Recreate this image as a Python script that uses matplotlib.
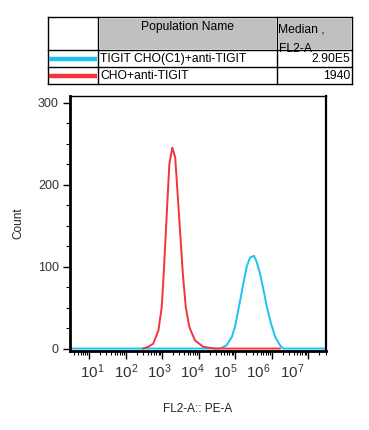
import numpy as np
import matplotlib
matplotlib.use("Agg")
import matplotlib.pyplot as plt
from matplotlib.patches import Rectangle
from matplotlib.ticker import FixedLocator, NullFormatter

plt.rcParams['font.family'] = ['Liberation Sans', 'DejaVu Sans']
plt.rcParams['mathtext.fontset'] = 'custom'
plt.rcParams['mathtext.rm'] = 'Liberation Sans'
plt.rcParams['mathtext.it'] = 'Liberation Sans'

# histogram outlines (log10 of FL2-A, count)
red_log = [2.48, 2.62, 2.76, 2.90, 2.99, 3.05, 3.13, 3.20, 3.28, 3.36, 3.42,
           3.49, 3.57, 3.65, 3.75, 3.90, 4.13, 4.45, 5.00, 6.23]
red_cnt = [0, 2, 6, 22, 50, 95, 165, 225, 245, 233, 193,
           145, 91, 50, 26, 10, 2, 0, 0, 0]

blue_log = [0.4, 4.59, 4.77, 4.91, 5.00, 5.07, 5.14, 5.23, 5.32, 5.41, 5.52,
            5.59, 5.68, 5.78, 5.87, 5.98, 6.10, 6.23, 6.32, 7.6]
blue_cnt = [0, 0, 4, 14, 27, 43, 59, 80, 100, 111, 113,
            106, 92, 71, 51, 31, 14, 4, 0, 0]

pop_names = ['TIGIT CHO(C1)+anti-TIGIT', 'CHO+anti-TIGIT']
medians = ['2.90E5', '1940']
colors = ['#1ec0f5', '#f5333a']

decades = [1, 2, 3, 4, 5, 6, 7]
y_major = [0, 100, 200, 300]

W, H = 369, 430
fig = plt.figure(figsize=(W / 100, H / 100), dpi=100)

# ---- histogram axes
ax = fig.add_axes([70 / W, 1 - 351 / H, 256 / W, 255 / H])
ax.set_xscale('log')
ax.plot(10 ** np.array(blue_log), blue_cnt, color=colors[0], lw=1.4)
ax.plot(10 ** np.array(red_log), red_cnt, color=colors[1], lw=1.4)
ax.set_xlim(10 ** 0.479, 10 ** 7.49)
ax.set_ylim(-3, 308)

ax.xaxis.set_major_locator(FixedLocator([10.0 ** d for d in decades]))
minors = [m * 10.0 ** d for d in range(0, 8) for m in range(2, 10)]
ax.xaxis.set_minor_locator(FixedLocator(minors))
ax.xaxis.set_major_formatter(NullFormatter())
ax.xaxis.set_minor_formatter(NullFormatter())
ax.tick_params(axis='x', which='major', direction='out', length=6, width=1)
ax.tick_params(axis='x', which='minor', direction='out', length=3, width=0.8)

ax.set_yticks(y_major)
ax.set_yticks(np.arange(25, 300, 25), minor=True)
ax.tick_params(axis='y', which='major', direction='out', length=5, width=1,
               labelsize=9, pad=3, labelcolor='#333333')
ax.tick_params(axis='y', which='minor', direction='out', length=3, width=0.8)

for side, lw in [('left', 2), ('bottom', 2), ('right', 1.6), ('top', 1)]:
    ax.spines[side].set_linewidth(lw)
    ax.spines[side].set_color('black')

# FlowJo prints the decade labels on a slightly tighter spacing than the ticks
def to_lab(x):
    d = np.log10(np.clip(x, 1e-300, None))
    return 10 ** (1 + (36.5 * (d - 1) - 3.5) / 33.2)

def from_lab(s):
    n = np.log10(np.clip(s, 1e-300, None))
    return 10 ** (1 + (3.5 + 33.2 * (n - 1)) / 36.5)

sec = ax.secondary_xaxis('bottom', functions=(to_lab, from_lab))
sec.set_xticks([10.0 ** d for d in decades],
               labels=['$10^{%d}$' % d for d in decades])
sec.xaxis.set_minor_locator(FixedLocator([]))
sec.tick_params(axis='x', which='both', length=0, pad=8, labelsize=11,
                labelcolor='#333333')
sec.spines['bottom'].set_visible(False)

ax.set_xlabel('FL2-A:: PE-A', fontsize=8.5, color='#222222')
ax.xaxis.set_label_coords(0.5, -0.205)
ax.set_ylabel('Count', fontsize=8.5, color='#222222')
ax.yaxis.set_label_coords(-0.18, 0.5)

# ---- legend table (drawn in figure pixel space)
tax = fig.add_axes([0, 0, 1, 1])
tax.set_xlim(0, W)
tax.set_ylim(H, 0)
tax.axis('off')

x0, x1, x2, x3 = 48, 98, 277, 352
y0, y1, y2, y3 = 17, 50, 67, 84
tax.add_patch(Rectangle((x1 + 1.5, y0 + 1.5), x2 - x1 - 3, y1 - y0 - 3,
                        facecolor='#c0c0c0', edgecolor='none'))
tax.add_patch(Rectangle((x2 + 1.5, y0 + 1.5), x3 - x2 - 3, y1 - y0 - 3,
                        facecolor='#c0c0c0', edgecolor='none'))
for yy in (y0, y1, y2, y3):
    tax.plot([x0, x3], [yy, yy], color='black', lw=1)
for xx in (x0, x1, x2, x3):
    tax.plot([xx, xx], [y0, y3], color='black', lw=1)

fs = 8.7
tax.text((x1 + x2) / 2, 27, 'Population Name', ha='center', va='center',
         fontsize=fs)
med = tax.text(x2 + 1.5, 23.5, 'Median ,\nFL2-A', ha='left', va='top',
               fontsize=fs, linespacing=1.85)
clip = Rectangle((x2, y0), x3 - x2, y1 - y0 - 1, transform=tax.transData)
med.set_clip_path(clip)

row_mid = [(y1 + y2) / 2, (y2 + y3) / 2]
for name, m, c, ym in zip(pop_names, medians, colors, row_mid):
    tax.plot([x0 + 1, x1 - 1], [ym, ym], color=c, lw=3.2, solid_capstyle='butt')
    tax.text(x1 + 2, ym + 0.5, name, ha='left', va='center', fontsize=fs)
    tax.text(x3 - 2, ym + 0.5, m, ha='right', va='center', fontsize=fs)

fig.savefig('out.png', dpi=100)
